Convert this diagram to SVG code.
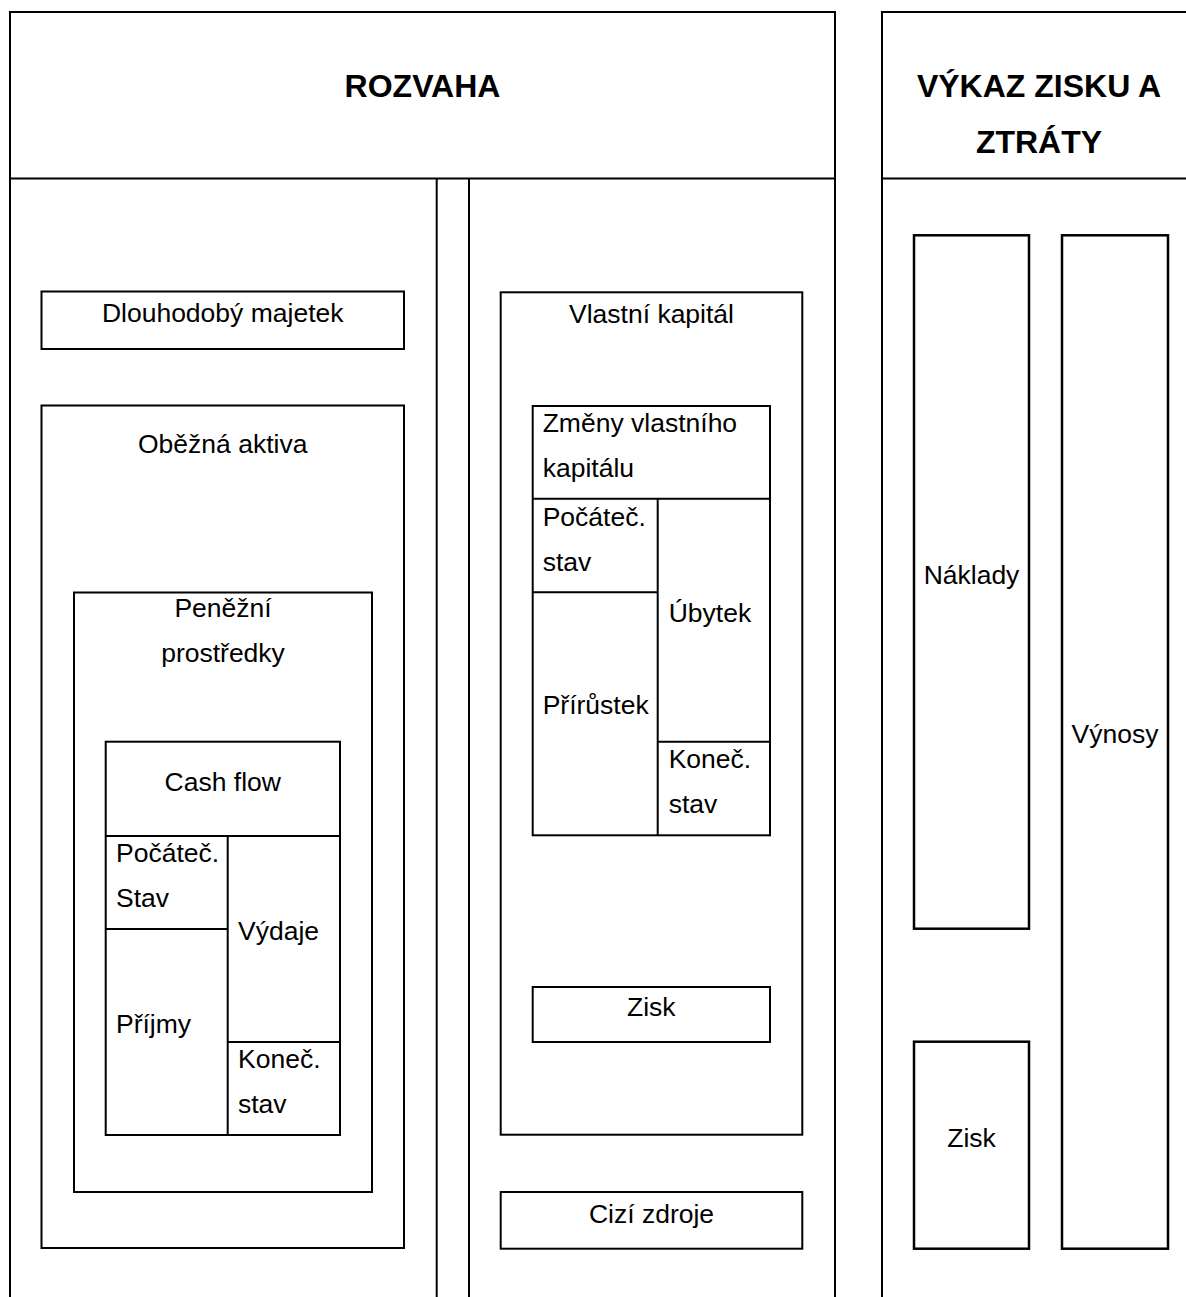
<svg xmlns="http://www.w3.org/2000/svg" width="1186" height="1297" viewBox="0 0 1186 1297">
<style>
.ln{fill:none;stroke:#000;stroke-width:2}
.bx{fill:none;stroke:#000;stroke-width:2}
.bx2{fill:none;stroke:#000;stroke-width:2.5}
.t{font-family:"Liberation Sans",Arial,sans-serif;font-size:26.5px;fill:#000}
.c{text-anchor:middle}
.b{font-weight:bold;font-size:32px}
</style>
<rect width="1186" height="1297" fill="#fff"/>
<g id="frames">
<g id="rozvaha">
<path class="ln" d="M10,1297V12H835V1297M10,178.5H835M436.7,178.5V1297M469,178.5V1297"/>
<text class="t b c" x="422.5" y="97.3">ROZVAHA</text>
</g>
<g id="vzz">
<path class="ln" d="M882,1297V12H1190M882,178.5H1190"/>
<text class="t b c" x="1039" y="96.7">VÝKAZ ZISKU A</text>
<text class="t b c" x="1039" y="153.3">ZTRÁTY</text>
</g>
</g>
<g id="n-dlouhodoby">
<rect class="bx" x="41.5" y="291.5" width="362.5" height="57.5"/>
<text class="t c" x="222.7" y="322.3">Dlouhodobý majetek</text>
</g>
<g id="n-obezna">
<rect class="bx" x="41.5" y="405.5" width="362.5" height="842.5"/>
<text class="t c" x="222.7" y="453">Oběžná aktiva</text>
</g>
<g id="n-penezni">
<rect class="bx" x="74" y="592.5" width="298" height="599.5"/>
<text class="t c" x="223" y="617">Peněžní</text>
<text class="t c" x="223" y="662">prostředky</text>
</g>
<g id="n-cashflow">
<rect class="bx" x="105.7" y="741.7" width="234.3" height="393.3"/>
<path class="ln" d="M105.7,836H340M227.7,836V1135M105.7,929H227.7M227.7,1042H340"/>
<text class="t c" x="222.8" y="790.7">Cash flow</text>
<text class="t" x="116" y="861.7">Počáteč.</text>
<text class="t" x="116" y="907">Stav</text>
<text class="t" x="238" y="940">Výdaje</text>
<text class="t" x="116" y="1033">Příjmy</text>
<text class="t" x="238" y="1067.7">Koneč.</text>
<text class="t" x="238" y="1113">stav</text>
</g>
<g id="n-vlastni">
<rect class="bx" x="500.7" y="292.3" width="301.6" height="842.4"/>
<text class="t c" x="651.5" y="323.3">Vlastní kapitál</text>
</g>
<g id="n-zmeny">
<rect class="bx" x="532.7" y="406" width="237.3" height="429.3"/>
<path class="ln" d="M532.7,498.7H770M657.7,498.7V835.3M532.7,592.3H657.7M657.7,741.7H770"/>
<text class="t" x="542.7" y="431.7">Změny vlastního</text>
<text class="t" x="542.7" y="476.7">kapitálu</text>
<text class="t" x="542.7" y="525.7">Počáteč.</text>
<text class="t" x="542.7" y="570.7">stav</text>
<text class="t" x="668.7" y="622.3">Úbytek</text>
<text class="t" x="542.7" y="714.3">Přírůstek</text>
<text class="t" x="668.7" y="768.3">Koneč.</text>
<text class="t" x="668.7" y="813.3">stav</text>
</g>
<g id="n-zisk-rozvaha">
<rect class="bx" x="532.7" y="987" width="237.3" height="55"/>
<text class="t c" x="651.3" y="1016">Zisk</text>
</g>
<g id="n-cizi">
<rect class="bx" x="500.7" y="1192" width="301.6" height="56.7"/>
<text class="t c" x="651.5" y="1223.3">Cizí zdroje</text>
</g>
<g id="n-naklady">
<rect class="bx2" x="914" y="235.3" width="115" height="693.4"/>
<text class="t c" x="971.5" y="584.3">Náklady</text>
</g>
<g id="n-vynosy">
<rect class="bx2" x="1062" y="235.3" width="106" height="1013.4"/>
<text class="t c" x="1115" y="743.3">Výnosy</text>
</g>
<g id="n-zisk-vzz">
<rect class="bx2" x="914" y="1041.7" width="115" height="207"/>
<text class="t c" x="971.5" y="1146.7">Zisk</text>
</g>
<g id="connectors"></g>
</svg>
